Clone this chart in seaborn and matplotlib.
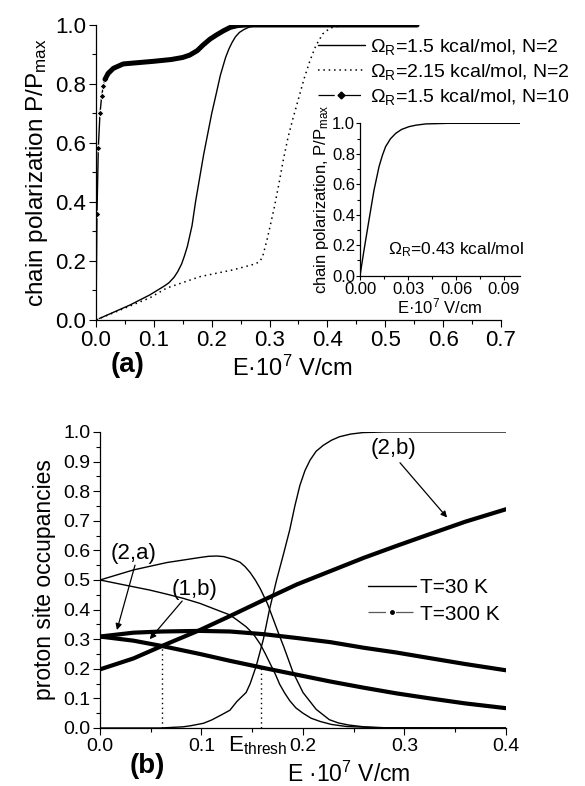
import matplotlib
matplotlib.use('Agg')
import matplotlib.pyplot as plt
from matplotlib.lines import Line2D
from matplotlib.ticker import MultipleLocator
import matplotlib.transforms as mtransforms
import seaborn as sns

# ---- panel (a): chain polarization vs field ----
E_w15_n2 = [0, 0.059, 0.093, 0.118, 0.126, 0.135, 0.141, 0.148, 0.153, 0.158, 0.166,
            0.172, 0.179, 0.186, 0.193, 0.2, 0.207, 0.215, 0.224, 0.23, 0.235, 0.241,
            0.248, 0.256, 0.265, 0.275, 0.29, 0.555]
P_w15_n2 = [0, 0.051, 0.085, 0.115, 0.126, 0.145, 0.163, 0.19, 0.218, 0.25, 0.32,
            0.40, 0.48, 0.56, 0.63, 0.70, 0.76, 0.83, 0.89, 0.92, 0.94, 0.96,
            0.975, 0.985, 0.993, 0.997, 1.0, 1.0]

E_w215_n2 = [0, 0.093, 0.122, 0.18, 0.237, 0.26, 0.275, 0.283, 0.288, 0.292, 0.296,
             0.300, 0.308, 0.316, 0.324, 0.332, 0.340, 0.350, 0.360, 0.370, 0.380,
             0.392, 0.405, 0.43, 0.555]
P_w215_n2 = [0, 0.075, 0.108, 0.147, 0.17, 0.182, 0.19, 0.198, 0.215, 0.245, 0.275,
             0.31, 0.38, 0.46, 0.545, 0.62, 0.68, 0.75, 0.82, 0.88, 0.93,
             0.97, 0.99, 1.0, 1.0]

E_w15_n10 = [0, 0.0017, 0.004, 0.0069, 0.0098, 0.0127, 0.0156, 0.021, 0.03, 0.047, 0.1,
             0.13, 0.15, 0.162, 0.175, 0.185, 0.197, 0.208, 0.22, 0.232, 0.245, 0.26, 0.555]
P_w15_n10 = [0, 0.36, 0.584, 0.70, 0.759, 0.794, 0.816, 0.836, 0.853, 0.868, 0.877,
             0.883, 0.89, 0.898, 0.913, 0.932, 0.952, 0.966, 0.98, 0.992, 0.998, 1.0, 1.0]

# inset: Omega_R = 0.43 kcal/mol
E_inset = [0, 0.0025, 0.0056, 0.00875, 0.0119, 0.014, 0.016, 0.019, 0.0223, 0.026,
           0.0306, 0.035, 0.041, 0.055, 0.1]
P_inset = [0, 0.168, 0.365, 0.562, 0.716, 0.79, 0.847, 0.898, 0.934, 0.96,
           0.978, 0.988, 0.996, 1.0, 1.0]

# ---- panel (b): proton site occupancies ----
E_30a = [0, 0.033, 0.066, 0.0985, 0.107, 0.115, 0.122, 0.128, 0.133, 0.138, 0.143,
         0.148, 0.153, 0.158, 0.165, 0.171, 0.177, 0.181, 0.19, 0.2, 0.213, 0.226,
         0.235, 0.245, 0.26, 0.28, 0.4]
Y_30a = [0.5, 0.534, 0.559, 0.576, 0.58, 0.581, 0.579, 0.573, 0.567, 0.56, 0.545,
         0.525, 0.5, 0.47, 0.42, 0.365, 0.31, 0.275, 0.19, 0.12, 0.063, 0.028,
         0.017, 0.01, 0.004, 0.001, 0.0]

E_30b = [0, 0.033, 0.049, 0.066, 0.082, 0.0985, 0.115, 0.128, 0.135, 0.144, 0.151,
         0.158, 0.163, 0.168, 0.173, 0.177, 0.182, 0.187, 0.193, 0.2, 0.208, 0.217,
         0.228, 0.243, 0.28, 0.4]
Y_30b = [0.5, 0.477, 0.466, 0.452, 0.438, 0.421, 0.399, 0.382, 0.365, 0.342, 0.318,
         0.283, 0.25, 0.215, 0.18, 0.148, 0.118, 0.092, 0.068, 0.05, 0.033, 0.022,
         0.012, 0.005, 0.0, 0.0]

E_30c = [0, 0.06, 0.082, 0.09, 0.102, 0.11, 0.12, 0.128, 0.135, 0.144, 0.148, 0.154,
         0.161, 0.167, 0.174, 0.181, 0.187, 0.192, 0.197, 0.202, 0.207, 0.213, 0.22,
         0.228, 0.236, 0.247, 0.259, 0.28, 0.4]
Y_30c = [0, 0.0, 0.004, 0.008, 0.016, 0.027, 0.045, 0.06, 0.09, 0.12, 0.15, 0.21,
         0.30, 0.40, 0.50, 0.59, 0.67, 0.75, 0.82, 0.87, 0.905, 0.935, 0.955,
         0.972, 0.984, 0.993, 0.998, 1.0, 1.0]

E_300 = [0, 0.033, 0.061, 0.0985, 0.128, 0.161, 0.194, 0.227, 0.26, 0.292, 0.325, 0.36, 0.4]
Y_300_2b = [0.198, 0.235, 0.277, 0.331, 0.378, 0.432, 0.485, 0.53, 0.575, 0.615, 0.655, 0.697, 0.739]
Y_300_mid = [0.309, 0.322, 0.326, 0.328, 0.326, 0.317, 0.304, 0.29, 0.271, 0.255, 0.236, 0.216, 0.195]
Y_300_low = [0.309, 0.295, 0.277, 0.25, 0.227, 0.203, 0.18, 0.157, 0.136, 0.117, 0.1, 0.083, 0.067]

E_guides = [0.061, 0.159]
Y_guides = [0.277, 0.203]

sns.set_style('ticks')
plt.rcParams['font.family'] = ['Liberation Sans', 'DejaVu Sans']
plt.rcParams['mathtext.fontset'] = 'custom'
plt.rcParams['mathtext.rm'] = 'Liberation Sans'
plt.rcParams['mathtext.it'] = 'Liberation Sans:italic'
plt.rcParams['mathtext.bf'] = 'Liberation Sans:bold'
plt.rcParams['axes.edgecolor'] = 'black'
plt.rcParams['xtick.color'] = 'black'
plt.rcParams['ytick.color'] = 'black'
plt.rcParams['text.color'] = 'black'
plt.rcParams['axes.labelcolor'] = 'black'

DOT = (0, (1, 2.5))


def style_ax(ax, size, major=5, minor=3, pad=2):
    ax.tick_params(which='both', direction='out', width=0.8, labelsize=size, pad=pad)
    ax.tick_params(which='major', length=major)
    ax.tick_params(which='minor', length=minor)
    sns.despine(ax=ax)
    for s in ['left', 'bottom']:
        ax.spines[s].set_linewidth(0.9)


fig = plt.figure(figsize=(5.85, 7.86), dpi=100)

# ---------------- (a) ----------------
ax_a = fig.add_axes([0.1641, 0.5929, 0.6923, 0.3753])
sns.lineplot(x=E_w15_n2, y=P_w15_n2, ax=ax_a, color='k', lw=1.0, estimator=None, sort=False)
sns.lineplot(x=E_w215_n2, y=P_w215_n2, ax=ax_a, color='k', lw=1.1, linestyle=DOT,
             estimator=None, sort=False)
sns.lineplot(x=E_w15_n10[:8], y=P_w15_n10[:8], ax=ax_a, color='k', lw=1.0, marker='D',
             markersize=3.5, estimator=None, sort=False)
sns.lineplot(x=E_w15_n10[6:], y=P_w15_n10[6:], ax=ax_a, color='k', lw=3.6,
             estimator=None, sort=False)
ax_a.set_xlim(0, 0.7)
ax_a.set_ylim(0, 1.0)
ax_a.xaxis.set_major_locator(MultipleLocator(0.1))
ax_a.xaxis.set_minor_locator(MultipleLocator(0.05))
ax_a.yaxis.set_major_locator(MultipleLocator(0.2))
ax_a.yaxis.set_minor_locator(MultipleLocator(0.1))
ax_a.xaxis.set_major_formatter(lambda v, p: f'{v:.1f}')
ax_a.yaxis.set_major_formatter(lambda v, p: f'{v:.1f}')
style_ax(ax_a, 16)
ax_a.set_ylabel('chain polarization P/P$_\\mathrm{max}$', fontsize=17.5, labelpad=4)
ax_a.set_xlabel('E·10$^7$ V/cm', fontsize=17)
ax_a.xaxis.set_label_coords(0.485, -0.12)

handles_a = [
    Line2D([], [], color='k', lw=1.0),
    Line2D([], [], color='k', lw=1.1, linestyle=DOT),
    Line2D([], [], color='k', lw=0.9, dashes=(13, 8), marker='D', markersize=3.5),
]
labels_a = ['$\\Omega_\\mathrm{R}$=1.5 kcal/mol, N=2',
            '$\\Omega_\\mathrm{R}$=2.15 kcal/mol, N=2',
            '$\\Omega_\\mathrm{R}$=1.5 kcal/mol, N=10']
ax_a.legend(handles_a, labels_a, loc='upper left', bbox_to_anchor=(0.548, 0.96),
            frameon=False, fontsize=14, handlelength=2.4, handletextpad=0.3,
            labelspacing=0.27, borderpad=0, borderaxespad=0)

fig.text(0.2188, 0.5356, '(a)', fontsize=20, fontweight='bold', ha='center', va='center')

# inset
ax_in = fig.add_axes([0.6154, 0.6492, 0.2735, 0.1939])
ax_in.set_facecolor('none')
sns.lineplot(x=E_inset, y=P_inset, ax=ax_in, color='k', lw=1.0, estimator=None, sort=False)
ax_in.set_xlim(0, 0.1)
ax_in.set_ylim(0, 1.0)
ax_in.xaxis.set_major_locator(MultipleLocator(0.03))
ax_in.xaxis.set_minor_locator(MultipleLocator(0.015))
ax_in.yaxis.set_major_locator(MultipleLocator(0.2))
ax_in.yaxis.set_minor_locator(MultipleLocator(0.1))
ax_in.xaxis.set_major_formatter(lambda v, p: f'{v:.2f}')
ax_in.yaxis.set_major_formatter(lambda v, p: f'{v:.1f}')
style_ax(ax_in, 12, major=3, minor=2, pad=0.5)
ax_in.tick_params(axis='x', pad=1.5)
ax_in.set_ylabel('chain polarization, P/P$_\\mathrm{max}$', fontsize=12, labelpad=1)
ax_in.set_xlabel('E·10$^7$ V/cm', fontsize=12, labelpad=0)
ax_in.text(0.0175, 0.17, '$\\Omega_\\mathrm{R}$=0.43 kcal/mol', fontsize=12.5, va='center')

# ---------------- (b) ----------------
ax_b = fig.add_axes([0.1709, 0.0738, 0.6940, 0.3766])
for ex, yy in [(E_30a, Y_30a), (E_30b, Y_30b), (E_30c, Y_30c)]:
    sns.lineplot(x=ex, y=yy, ax=ax_b, color='k', lw=1.0, estimator=None, sort=False)
for yy in [Y_300_2b, Y_300_mid, Y_300_low]:
    sns.lineplot(x=E_300, y=yy, ax=ax_b, color='k', lw=3.0, estimator=None, sort=False)
ax_b.vlines(E_guides, 0, Y_guides, colors='k', linestyles=DOT, lw=1.0)
ax_b.set_xlim(0, 0.4)
ax_b.set_ylim(0, 1.0)
ax_b.xaxis.set_major_locator(MultipleLocator(0.1))
ax_b.xaxis.set_minor_locator(MultipleLocator(0.05))
ax_b.yaxis.set_major_locator(MultipleLocator(0.1))
ax_b.yaxis.set_minor_locator(MultipleLocator(0.05))
ax_b.xaxis.set_major_formatter(lambda v, p: f'{v:.1f}')
ax_b.yaxis.set_major_formatter(lambda v, p: f'{v:.1f}')
style_ax(ax_b, 14)
ax_b.set_ylabel('proton site occupancies', fontsize=16.5, labelpad=5)
ax_b.set_xlabel('E ·10$^7$ V/cm', fontsize=16.5)
ax_b.xaxis.set_label_coords(0.613, -0.115)

trans = mtransforms.blended_transform_factory(ax_b.transData, ax_b.transAxes)
ax_b.text(0.126, -0.02, 'E$_\\mathrm{thresh}$', fontsize=16, transform=trans, va='top', ha='left')

arrow = dict(arrowstyle='-|>', color='k', lw=0.9, mutation_scale=9, shrinkA=0, shrinkB=0)
ax_b.text(0.0335, 0.591, '(2,a)', fontsize=16, ha='center', va='center')
ax_b.annotate('', xy=(0.0167, 0.331), xytext=(0.0345, 0.55), arrowprops=arrow)
ax_b.text(0.0936, 0.469, '(1,b)', fontsize=16, ha='center', va='center')
ax_b.annotate('', xy=(0.049, 0.30), xytext=(0.081, 0.429), arrowprops=arrow)
ax_b.text(0.289, 0.943, '(2,b)', fontsize=16, ha='center', va='center')
ax_b.annotate('', xy=(0.342, 0.711), xytext=(0.2956, 0.896), arrowprops=arrow)

handles_b = [
    Line2D([], [], color='k', lw=1.0),
    Line2D([], [], color='0.35', lw=0.9, dashes=(14, 8), marker='o', markersize=2.5,
           markerfacecolor='k', markeredgecolor='k'),
]
ax_b.legend(handles_b, ['T=30 K', 'T=300 K'], loc='upper left', bbox_to_anchor=(0.66, 0.506),
            frameon=False, fontsize=15, handlelength=2.3, handletextpad=0.2,
            labelspacing=0.35, borderpad=0, borderaxespad=0)

fig.text(0.2513, 0.0254, '(b)', fontsize=20, fontweight='bold', ha='center', va='center')

fig.savefig('out.png', dpi=100)
